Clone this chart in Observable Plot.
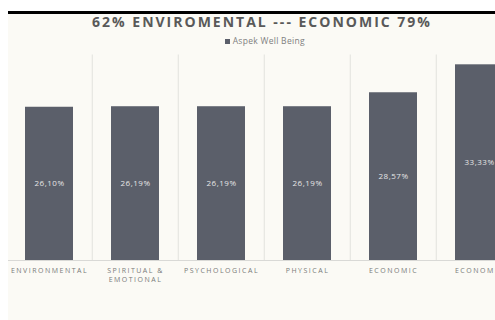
<!DOCTYPE html>
<html><head><meta charset="utf-8">
<script src="https://cdn.jsdelivr.net/npm/d3@7"></script>
<script src="https://cdn.jsdelivr.net/npm/@observablehq/plot@0.6"></script>
<style>
html,body{margin:0;padding:0;background:#fff;width:495px;height:320px;overflow:hidden;font-family:"Open Sans",sans-serif;}
#frame{position:absolute;left:8px;top:11px;width:487px;height:309px;border-top:3px solid #000;background:#fbfaf5;overflow:hidden;box-sizing:border-box;}
#title{position:absolute;left:-11px;width:530px;top:0px;line-height:16px;text-align:center;font-weight:bold;font-size:14px;letter-spacing:2px;color:#595959;white-space:nowrap;}
#legend{position:absolute;left:-8px;width:530px;top:21.5px;line-height:10px;text-align:center;font-size:8.5px;letter-spacing:0.3px;color:#7f7f7f;white-space:nowrap;}
#legend .sw{display:inline-block;width:5px;height:5px;background:#5b5f6a;margin-right:2.5px;vertical-align:0px;}
#chart{position:absolute;left:-8px;top:-14px;width:530px;height:300px;}
#chart svg{max-width:none !important;width:530px;height:300px;}
#chart g[aria-label="x-axis tick label"] text{letter-spacing:1.5px;}
#chart g[aria-label="text"] text{letter-spacing:0.5px;}
</style>
</head><body>
<div id="frame">
  <div id="title">62% ENVIROMENTAL --- ECONOMIC 79%</div>
  <div id="legend"><span class="sw"></span>Aspek Well Being</div>
  <div id="chart"></div>
</div>
<script>
const labels = ["ENVIRONMENTAL", "SPIRITUAL &\nEMOTIONAL", "PSYCHOLOGICAL", "PHYSICAL", "ECONOMIC", "ECONOMIC"];
const values = [26.10, 26.19, 26.19, 26.19, 28.57, 33.33];
const valueLabels = ["26,10%", "26,19%", "26,19%", "26,19%", "28,57%", "33,33%"];
const yMax = 35;

const data = labels.map((l, i) => ({i, label: l, value: values[i], text: valueLabels[i]}));
const idx = data.map(d => d.i);
const bounds = idx.slice(1);
const step = 86.5;

const plot = Plot.plot({
  width: 530,
  height: 300,
  marginLeft: 4.25,
  marginRight: 6.75,
  marginTop: 54.5,
  marginBottom: 40,
  style: {fontFamily: "Open Sans", background: "transparent", overflow: "visible"},
  x: {domain: idx, paddingInner: 0.445, paddingOuter: 0.2225, axis: null, label: null},
  y: {domain: [0, yMax], axis: null},
  marks: [
    Plot.ruleX(bounds, {x: d => d, dx: -step / 2, y1: 0, y2: yMax, stroke: "#e2e2dd", strokeWidth: 1}),
    Plot.ruleY([0], {stroke: "#d9d9d6"}),
    Plot.barY(data, {x: "i", y: "value", fill: "#5b5f6a"}),
    Plot.text(data, {x: "i", y: d => d.value / 2, text: "text", fill: "#e6e6e6", fontSize: 8}),
    Plot.axisX({tickSize: 0, tickPadding: 7, fontSize: 7, fill: "#7a7a7a", lineHeight: 1.2, label: null, tickFormat: i => labels[i], textOverflow: null})
  ]
});
document.getElementById("chart").appendChild(plot);
</script>
</body></html>
